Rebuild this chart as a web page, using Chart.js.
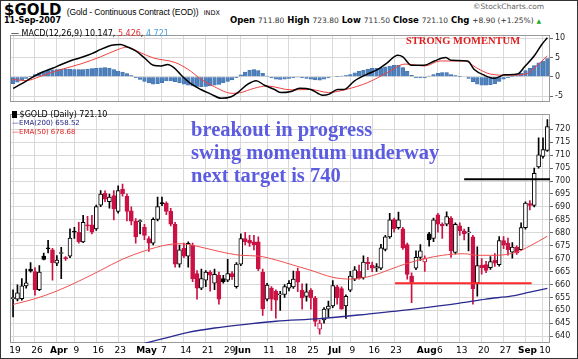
<!DOCTYPE html>
<html>
<head>
<meta charset="utf-8">
<script src="https://cdn.jsdelivr.net/npm/chart.js@4.4.0/dist/chart.umd.min.js"></script>
<style>
  body { margin: 0; background: #fff; }
  #wrap { position: relative; width: 578px; height: 359px; overflow: hidden; background: #fff; box-sizing: border-box; border: 1px solid #333; }
  .t { position: absolute; white-space: nowrap; font-family: "DejaVu Sans", Verdana, sans-serif; color: #000; }
  canvas { position: absolute; left: 0; }
  .note { position: absolute; white-space: nowrap; font-family: "Liberation Serif", "Times New Roman", serif; font-weight: bold; }
</style>
</head>
<body>
<div id="wrap">
  <div class="t" style="left:3px;top:0px;font-size:15px;font-weight:bold">$GOLD <span style="font-family:'Liberation Sans',Arial,sans-serif;font-size:8.5px;font-weight:normal;letter-spacing:-0.1px">(Gold - Continuous Contract (EOD))</span> <span style="font-size:6.5px;font-weight:normal">INDX</span></div>
  <div class="t" style="left:472px;top:1px;font-size:7.5px;color:#666">&copy;StockCharts.com</div>
  <div class="t" style="left:3px;top:15px;font-size:8px;font-weight:bold">11-Sep-2007</div>
  <div class="t" style="left:229px;top:14px;font-size:8.5px;font-weight:bold">Open <span style="font-weight:normal;font-size:7.5px;color:#333">711.80</span> High <span style="font-weight:normal;font-size:7.5px;color:#333">723.80</span> Low <span style="font-weight:normal;font-size:7.5px;color:#333">711.50</span> Close <span style="font-weight:normal;font-size:7.5px;color:#333">721.10</span> Chg <span style="font-weight:normal;font-size:7.5px;color:#333">+8.90 (+1.25%)</span> <span style="font-size:6px;color:#2a2">&#9650;</span></div>

  <canvas id="macd" width="578" height="81" style="top:27px"></canvas>
  <canvas id="price" width="578" height="251" style="top:106px"></canvas>

  <div class="t" style="left:10px;top:28px;font-size:8px">&#8212; MACD(12,26,9) 10.147, <span style="color:#e03030">5.426</span>, <span style="color:#4aa0d8">4.721</span></div>
  <div class="note" style="left:405px;top:34px;font-size:10.5px;color:#e02020">STRONG MOMENTUM</div>

  <div class="t" style="left:11px;top:109px;font-size:8px"><span style="display:inline-block;width:5px;height:7px;background:#000;vertical-align:-1px"></span> $GOLD (Daily) 721.10</div>
  <div class="t" style="left:11px;top:118px;font-size:7px;color:#1a1a80">&#8212;EMA(200) 658.52</div>
  <div class="t" style="left:11px;top:127px;font-size:7px;color:#e02020">&#8212;EMA(50) 678.68</div>

  <div class="note" style="left:190px;top:117px;font-size:20.5px;line-height:23px;color:#5c5ce0">breakout in progress<br>swing momentum underway<br>next target is 740</div>
</div>

<script>
// trading days, 19-Mar-2007 .. 11-Sep-2007
const dates = [
  '3/19','3/20','3/21','3/22','3/23','3/26','3/27','3/28','3/29','3/30',
  '4/2','4/3','4/4','4/5','4/9','4/10','4/11','4/12','4/13','4/16','4/17','4/18','4/19','4/20','4/23','4/24','4/25','4/26','4/27','4/30',
  '5/1','5/2','5/3','5/4','5/7','5/8','5/9','5/10','5/11','5/14','5/15','5/16','5/17','5/18','5/21','5/22','5/23','5/24','5/25','5/29','5/30','5/31',
  '6/1','6/4','6/5','6/6','6/7','6/8','6/11','6/12','6/13','6/14','6/15','6/18','6/19','6/20','6/21','6/22','6/25','6/26','6/27','6/28','6/29',
  '7/2','7/3','7/5','7/6','7/9','7/10','7/11','7/12','7/13','7/16','7/17','7/18','7/19','7/20','7/23','7/24','7/25','7/26','7/27','7/30','7/31',
  '8/1','8/2','8/3','8/6','8/7','8/8','8/9','8/10','8/13','8/14','8/15','8/16','8/17','8/20','8/21','8/22','8/23','8/24','8/27','8/28','8/29','8/30','8/31',
  '9/4','9/5','9/6','9/7','9/10','9/11'
];

const open = [
  654.5,654.3,654.5,659.5,666.0,665.0,658.0,671.0,674.0,673.4,
  668.3,672.0,670.3,671.0,680.4,680.2,676.5,682.9,683.1,681.5,
  690.7,695.3,692.0,694.4,688.3,696.9,694.2,688.5,684.5,684.3,
  682.1,677.8,676.0,685.2,691.6,691.4,688.3,683.3,667.9,674.0,
  671.0,675.3,664.2,658.6,661.7,664.8,660.5,663.6,662.3,661.7,
  664.2,659.2,667.9,677.8,677.1,676.5,676.5,664.8,654.3,658.6,
  657.4,656.0,656.2,658.6,659.1,665.1,657.8,655.4,657.8,654.8,
  642.7,646.3,650.5,651.7,659.1,658.4,651.7,657.8,662.1,665.1,
  662.7,668.7,667.5,666.3,666.3,673.6,678.4,685.1,682.0,681.5,
  675.4,663.3,666.3,670.5,668.7,679.6,677.8,686.9,683.3,683.3,
  685.7,672.4,682.7,680.8,680.0,678.4,660.5,667.5,667.7,666.5,
  669.5,667.7,677.0,676.0,672.5,674.5,673.5,682.0,691.3,690.6,
  705.5,709.5,711.8
];
const high = [
  658.0,659.9,662.3,666.0,668.5,666.6,667.3,672.2,677.1,674.0,
  671.2,674.4,670.8,681.5,682.1,684.0,686.8,686.4,686.8,690.7,
  696.3,696.2,695.0,696.3,698.2,698.8,695.1,690.0,685.5,685.0,
  683.3,678.5,685.8,693.8,693.8,692.0,689.5,684.0,675.3,676.0,
  676.5,676.0,665.4,666.0,665.4,665.4,666.0,664.8,663.6,669.7,
  665.0,668.5,679.6,680.2,679.0,679.0,678.4,666.0,660.5,659.2,
  658.0,657.4,660.0,661.5,665.2,666.4,660.3,660.3,658.4,655.4,
  646.3,651.1,653.6,661.5,659.7,659.1,656.0,665.1,666.9,667.5,
  671.1,670.5,668.7,668.1,675.5,679.0,687.5,685.7,688.0,682.1,
  676.0,664.5,673.0,675.4,671.1,680.2,685.7,687.5,683.9,688.1,
  686.3,683.9,683.9,681.4,682.1,679.0,674.6,670.0,669.0,670.8,
  672.0,678.5,678.5,678.0,676.2,675.0,683.9,692.0,692.5,705.0,
  716.7,716.7,723.8
];
const low = [
  647.5,653.7,654.0,658.6,664.8,655.9,657.6,669.5,672.2,661.7,
  667.3,662.3,669.3,670.4,677.8,676.0,676.2,680.9,679.6,680.9,
  690.1,692.0,689.5,685.0,687.6,694.2,684.6,683.0,676.0,679.6,
  677.3,672.8,675.3,684.6,690.5,687.0,682.7,666.7,666.7,670.4,
  666.7,661.1,654.3,658.0,659.2,657.4,658.0,652.4,660.5,661.1,
  662.0,658.6,667.3,675.3,674.7,673.4,665.4,648.1,653.7,650.0,
  647.0,650.0,655.0,657.5,658.5,657.2,650.5,653.6,650.5,643.9,
  640.8,645.1,647.5,651.1,652.4,650.5,646.9,657.2,661.5,662.1,
  662.1,665.7,665.0,665.1,665.7,673.0,677.8,680.2,681.4,673.6,
  662.1,653.0,665.7,669.3,665.1,674.8,676.6,680.2,677.8,682.7,
  670.5,671.8,679.0,677.2,673.0,652.4,655.5,664.0,664.6,665.8,
  667.0,667.1,673.9,671.4,670.2,671.6,673.3,681.4,688.8,690.0,
  705.0,708.8,711.5
];
const close = [
  655.0,656.8,659.5,660.7,665.2,658.0,664.8,669.7,673.8,668.5,
  669.5,672.2,670.0,678.0,680.2,676.6,684.0,682.7,680.2,690.1,
  695.0,693.0,693.8,689.2,696.3,695.0,688.3,684.5,678.4,684.6,
  679.0,676.0,685.2,690.1,691.3,688.3,683.3,667.9,673.4,671.0,
  675.9,662.3,658.6,662.3,664.8,663.6,663.9,654.3,661.1,664.2,
  663.0,667.9,677.8,676.5,676.0,675.3,666.0,650.6,659.8,654.3,
  654.0,656.2,659.2,660.5,662.1,660.9,654.8,657.2,654.8,645.7,
  645.1,650.5,651.7,659.6,654.8,650.5,655.4,663.3,665.7,662.7,
  668.7,668.1,666.3,666.9,674.2,678.4,685.0,681.5,685.0,674.2,
  663.9,660.8,670.5,673.0,670.0,677.2,685.0,683.3,682.7,686.3,
  673.0,683.3,680.8,679.6,680.1,658.4,667.3,666.5,665.5,668.9,
  668.3,677.0,675.2,673.5,674.5,672.2,682.0,691.5,690.6,703.0,
  710.1,712.2,721.1
];

// moving averages (trading-day index, value)
const ema50Day = [0, 5, 10, 15, 20, 25, 30, 35, 38, 42, 47, 52, 56, 60, 64, 68, 73, 77, 82, 86, 90, 94, 98, 103, 106, 110, 115, 118, 122];
const ema50Val = [652.3, 654.5, 657.5, 661.3, 665.5, 669.8, 673.0, 675.3, 675.8, 674.8, 672.8, 671.3, 671.0, 669.5, 667.5, 665.5, 662.8, 662.1, 663.4, 665.8, 668.2, 670.0, 671.3, 671.9, 671.3, 671.3, 672.5, 674.9, 678.68];
const ema200Day = [30, 34, 40, 46, 54, 60, 70, 81, 92, 102, 108, 114, 118, 122];
const ema200Val = [637.3, 639.0, 641.5, 643.2, 644.8, 645.8, 646.8, 648.6, 650.6, 652.8, 654.4, 655.6, 657.1, 658.52];

// MACD(12,26,9)
const macdDay = [0, 2, 4, 6.5, 9, 11, 13, 15.5, 18, 20, 22.5, 24.5, 26, 28, 30, 32, 33.8, 35.3, 36.8, 38.4, 40.6, 42.9, 45.2, 47.5, 49.8, 51.3, 53.6, 55.5, 57.4, 59.7, 61.2, 63.5, 65.4, 68, 70.7, 72.2, 74.1, 75.6, 77.9, 80.9, 83.3, 85.5, 87.8, 89, 90.9, 93.9, 96.2, 98.8, 100, 103.8, 105.3, 107.6, 109.9, 112.2, 115.2, 116.8, 119.1, 120.6, 122];
const macdVal = [-3.0, -1.8, -0.4, 1.1, 2.2, 3.2, 4.1, 5.0, 6.0, 7.1, 8.2, 8.4, 7.8, 6.7, 4.9, 3.0, 2.8, 3.2, 2.3, 0.4, -1.8, -3.3, -4.5, -5.6, -5.2, -4.1, -1.9, -1.0, -2.2, -3.3, -4.1, -3.8, -3.0, -3.3, -4.8, -4.5, -3.3, -3.3, -1.1, 0.7, 1.9, 3.7, 5.6, 5.2, 3.0, 3.0, 4.1, 5.0, 4.3, 4.1, 1.9, 0.4, -0.4, 0.5, 0.7, 2.6, 5.6, 8.2, 10.147];
const signalDay = [0, 3, 6, 8, 11, 15.5, 20, 24, 26, 29, 32, 37, 40, 43, 46, 50, 52, 55, 58, 63.5, 68, 72, 76, 81, 85.5, 89.5, 94, 97.5, 103, 106, 109, 113, 117, 120, 122];
const signalVal = [-0.7, -1.0, 0.0, 0.8, 1.9, 3.35, 5.2, 7.1, 7.7, 6.3, 4.9, 3.7, 1.9, -0.7, -2.6, -4.3, -4.1, -3.0, -2.4, -3.4, -3.3, -4.1, -3.3, -1.5, 1.1, 3.3, 2.8, 4.1, 4.1, 2.2, 0.7, 0.4, 0.7, 3.3, 5.426];
const histVal = [
  -1.8,-1.4,-0.9,-0.4,0.1,0.6,1.0,1.3,1.6,1.8,
  1.9,2.0,2.0,2.0,1.9,1.9,1.9,2.0,2.1,2.2,
  2.3,2.4,2.2,1.9,1.5,1.2,0.8,0.3,-0.2,-0.7,
  -1.2,-1.6,-1.9,-1.8,-1.5,-1.1,-1.1,-1.3,-1.6,-1.9,
  -2.2,-2.4,-2.5,-2.6,-2.5,-2.4,-2.2,-2.0,-1.6,-1.2,
  -0.8,-0.2,0.5,1.2,1.7,1.9,1.6,0.9,0.2,-0.3,
  -0.6,-0.7,-0.6,-0.4,-0.2,-0.1,-0.2,-0.4,-0.6,-0.8,
  -0.9,-0.6,-0.3,0.0,0.1,0.2,0.3,0.6,1.0,1.4,
  1.7,2.0,2.2,2.2,2.3,2.6,2.8,3.0,3.0,2.4,
  1.4,0.4,-0.2,-0.3,-0.3,0.2,0.6,0.9,1.1,1.1,
  0.6,0.3,0.1,0.0,-0.4,-1.3,-1.9,-2.2,-2.2,-2.1,
  -1.8,-1.2,-0.6,-0.2,0.1,0.3,0.9,1.6,2.2,2.9,
  3.6,4.1,4.721
];

// hand-drawn levels on the chart
const levelPrice = [700.7, 660.5];
const levelFrom = [103, 87.2];
const levelTo = [122.8, 118.4];

// x axis labels
const tickDates = ['3/19','3/26','4/2','4/9','4/16','4/23','5/1','5/7','5/14','5/21','5/29','6/1','6/11','6/18','6/25','7/2','7/9','7/16','7/23','8/1','8/6','8/13','8/20','8/27','9/4','9/10'];
const tickText = ['19','26','Apr','9','16','23','May','7','14','21','29','Jun','11','18','25','Jul','9','16','23','Aug','6','13','20','27','Sep','10'];
const monthText = ['Apr','May','Jun','Jul','Aug','Sep'];
const priceTicks = [640,645,650,655,660,665,670,675,680,685,690,695,700,705,710,715,720];
const macdTicks = [-5, 0, 5, 10];

const tickIdx = tickDates.map(d => dates.indexOf(d));
const RED = '#cc1144';
const GRID = '#d9d9d9';

const candleColor = close.map((c, i) => (i === 0 || c >= close[i - 1]) ? '#000' : RED);

const frame = {
  id: 'frame',
  beforeDatasetsDraw(chart) {
    const a = chart.chartArea, ctx = chart.ctx;
    ctx.save();
    ctx.strokeStyle = '#999';
    ctx.lineWidth = 1;
    ctx.strokeRect(Math.round(a.left) + 0.5, Math.round(a.top) + 0.5, Math.round(a.right - a.left) - 1, Math.round(a.bottom - a.top) - 1);
    ctx.restore();
  }
};

function xScale(showLabels) {
  return {
    type: 'linear',
    min: -0.7,
    max: 122.6,
    offset: false,
    afterBuildTicks: ax => { ax.ticks = tickIdx.map(v => ({ value: v })); },
    afterFit: s => { s.height = showLabels ? 13 : 0; },
    grid: { color: GRID, drawTicks: false, offset: false },
    border: { display: false },
    ticks: {
      display: showLabels,
      autoSkip: false,
      maxRotation: 0,
      padding: 2,
      labelOffset: 2,
      color: '#000',
      callback: (v, i) => tickText[i],
      font: ctx => ({ family: 'DejaVu Sans', size: 9, weight: monthText.includes(tickText[ctx.index]) ? 'bold' : 'normal' })
    }
  };
}

function yScale(min, max, ticks) {
  return {
    position: 'right',
    min: min,
    max: max,
    afterBuildTicks: ax => { ax.ticks = ticks.map(v => ({ value: v })); },
    afterFit: s => { s.width = 29; },
    grid: { color: GRID, tickLength: 3, tickColor: '#666' },
    border: { display: false },
    ticks: { color: '#222', padding: 2, font: { family: 'DejaVu Sans', size: 8 } }
  };
}

const pts = (xs, ys) => xs.map((x, i) => ({ x: x, y: ys[i] }));

new Chart(document.getElementById('macd'), {
  type: 'bar',
  data: {
    datasets: [
      {
        type: 'line', data: pts(macdDay, macdVal), borderColor: '#000', borderWidth: 1.5,
        pointRadius: 0, cubicInterpolationMode: 'monotone', order: 0
      },
      {
        type: 'line', data: pts(signalDay, signalVal), borderColor: '#f04040', borderWidth: 1,
        pointRadius: 0, cubicInterpolationMode: 'monotone', order: 1
      },
      {
        data: histVal.map((v, i) => ({ x: i, y: v })), backgroundColor: '#4f81bd',
        borderColor: '#3d6ea8', borderWidth: 0.5, barThickness: 3.6, grouped: false, order: 2
      }
    ]
  },
  options: {
    responsive: false,
    animation: false,
    events: [],
    layout: { padding: { left: 9, top: 1, bottom: 1, right: 0 } },
    plugins: { legend: { display: false }, tooltip: { enabled: false } },
    scales: { x: xScale(false), y: yScale(-6.6, 10.9, macdTicks) }
  },
  plugins: [frame]
});

new Chart(document.getElementById('price'), {
  type: 'bar',
  data: {
    datasets: [
      {
        data: low.map((l, i) => ({ x: i, y: [l, high[i]] })),
        backgroundColor: candleColor, barThickness: 1, grouped: false, order: 4
      },
      {
        data: open.map((o, i) => ({ x: i, y: [o, close[i]] })),
        backgroundColor: close.map((c, i) => c < open[i] ? candleColor[i] : '#fff'),
        borderColor: candleColor, borderWidth: 1, borderSkipped: false,
        barThickness: 4, minBarLength: 1, grouped: false, order: 3
      },
      {
        type: 'line', data: pts(ema50Day, ema50Val), borderColor: '#f05050', borderWidth: 1,
        pointRadius: 0, cubicInterpolationMode: 'monotone', order: 2
      },
      {
        type: 'line', data: pts(ema200Day, ema200Val), borderColor: '#2a2a90', borderWidth: 1.3,
        pointRadius: 0, cubicInterpolationMode: 'monotone', order: 2
      },
      ...levelPrice.map((p, k) => ({
        type: 'line', data: [{ x: levelFrom[k], y: p }, { x: levelTo[k], y: p }],
        borderColor: k === 0 ? '#000' : '#ff2a2a', borderWidth: 2, pointRadius: 0, order: 0
      }))
    ]
  },
  options: {
    responsive: false,
    animation: false,
    events: [],
    layout: { padding: { left: 9, top: 1, bottom: 2, right: 0 } },
    plugins: { legend: { display: false }, tooltip: { enabled: false } },
    scales: { x: xScale(true), y: yScale(637.4, 726, priceTicks) }
  },
  plugins: [frame]
});
</script>
</body>
</html>
